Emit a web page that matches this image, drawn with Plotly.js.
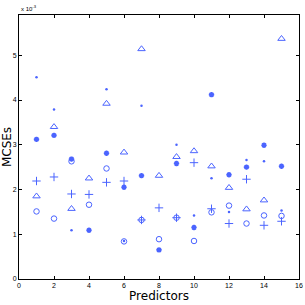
<!DOCTYPE html>
<html><head><meta charset="utf-8">
<script src="https://cdn.plot.ly/plotly-3.0.1.min.js"></script>
<style>html,body{margin:0;padding:0;background:#fff}#c{width:305px;height:305px}</style>
</head><body><div id="c"></div>
<script>
// values in units of 1e-3
var predictors = [1,2,3,4,5,6,7,8,9,10,11,12,13,14,15];
var circles   = [1.51,1.35,2.63,1.66,2.47,0.84,1.32,0.89,1.37,0.85,1.49,1.64,1.24,1.42,1.41];
var triangles = [1.85,3.40,1.57,2.25,3.92,2.83,5.14,2.31,2.73,2.86,2.52,2.04,1.56,1.76,5.37];
var pluses    = [2.19,2.28,1.90,1.89,2.16,2.19,1.32,1.59,1.37,2.60,1.57,1.24,2.23,1.20,1.29];
var asterisks = [3.12,3.21,2.68,1.09,2.81,2.05,2.31,0.65,2.58,1.15,4.12,2.33,2.50,2.99,2.52];
var dots      = [4.51,3.79,1.09,1.09,4.24,0.85,3.87,0.65,3.00,1.42,2.25,1.50,2.66,2.63,1.53];
var xTicks = [0,2,4,6,8,10,12,14,16];
var yTicks = [0,1,2,3,4,5];

var col = 'rgb(75,100,255)';
function tr(y, sym, size, lw){
  return {x: predictors, y: y, mode:'markers', type:'scatter', showlegend:false,
    marker:{symbol:sym, size:size, color:col, line:{color:col, width:lw}}};
}
var data = [
  tr(circles,'circle-open',5.5,1),
  tr(triangles,'triangle-up-open',6.5,1),
  tr(pluses,'cross-thin-open',6,1),
  tr(asterisks,'asterisk-open',4.5,1.6),
  tr(dots,'circle',2.5,0)
];
var axisCommon = {showgrid:false, zeroline:false, showline:true, linecolor:'#000', linewidth:1,
  mirror:'ticks', ticks:'inside', ticklen:3, tickcolor:'#000',
  tickfont:{family:'Liberation Sans, Arial', size:7, color:'#000'}};
var layout = {
  width:305, height:305, margin:{l:19, r:6, t:15, b:26},
  paper_bgcolor:'#fff', plot_bgcolor:'#fff',
  xaxis: Object.assign({}, axisCommon, {range:[0,16], tickvals:xTicks,
    title:{text:'Predictors', font:{family:'DejaVu Sans, Arial', size:12, color:'#000'}, standoff:2}}),
  yaxis: Object.assign({}, axisCommon, {range:[0,5.9], tickvals:yTicks,
    title:{text:'MCSEs', font:{family:'DejaVu Sans, Arial', size:12, color:'#000'}, standoff:0}}),
  annotations:[{xref:'paper', yref:'paper', x:0, y:1, xanchor:'left', yanchor:'bottom', showarrow:false,
    text:'x 10<sup>-3</sup>', font:{family:'Liberation Sans, Arial', size:6, color:'#000'}, yshift:1}]
};
Plotly.newPlot('c', data, layout, {displayModeBar:false, staticPlot:true});
</script></body></html>
